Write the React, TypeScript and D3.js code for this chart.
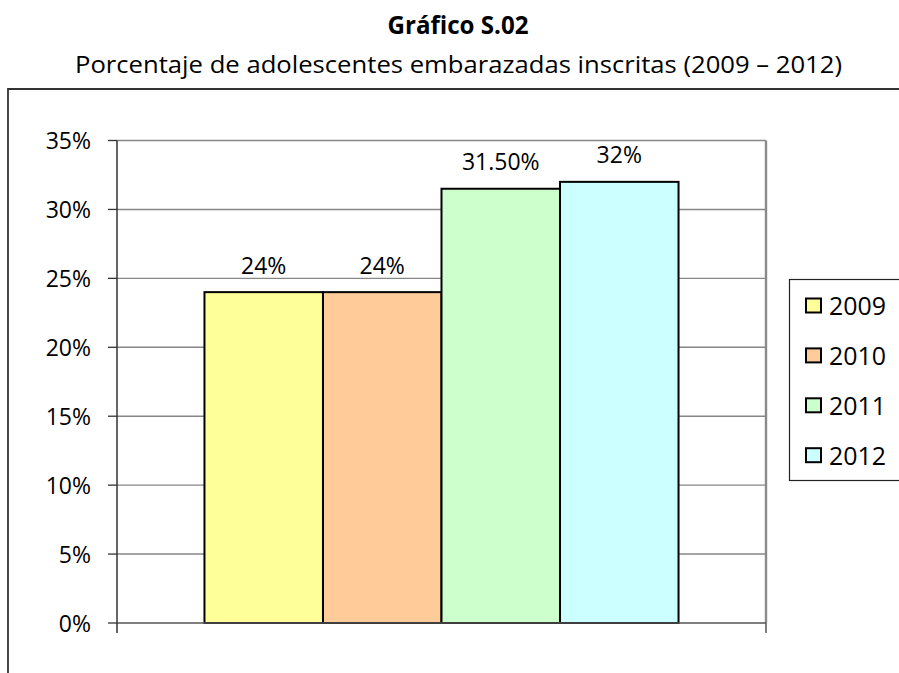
import React from "react";
import * as d3 from "d3";

const years = ["2009", "2010", "2011", "2012"];
const values = [0.24, 0.24, 0.315, 0.32];
const valueLabels = ["24%", "24%", "31.50%", "32%"];
const colors = ["#FFFF99", "#FFCC99", "#CCFFCC", "#CCFFFF"];
const yTicks = [0, 0.05, 0.1, 0.15, 0.2, 0.25, 0.3, 0.35];
const title = "Gráfico S.02";
const subtitle = "Porcentaje de adolescentes embarazadas inscritas (2009 – 2012)";

const W = 899;
const H = 673;
const plot = { left: 117, right: 766, top: 140.5, bottom: 623 };
const FONT = "'Open Sans', sans-serif";

export default function App() {
  const y = d3.scaleLinear().domain([0, 0.35]).range([plot.bottom, plot.top]);
  const x = d3
    .scaleBand<string>()
    .domain(years)
    .range([plot.left, plot.right])
    .paddingInner(0)
    .paddingOuter(0.738);
  const pct = d3.format(".0%");

  return (
    <svg
      width={W}
      height={H}
      style={{ position: "absolute", left: 0, top: 0, background: "#fff" }}
      fontFamily={FONT}
    >
      <rect x={0} y={0} width={W} height={H} fill="#fff" />
      <text x={458} y={34} textAnchor="middle" fontSize={25} fontWeight="bold" fill="#000"
        textLength={141} lengthAdjust="spacingAndGlyphs">
        {title}
      </text>
      <text x={458.5} y={72.5} textAnchor="middle" fontSize={23.5} fill="#000"
        textLength={767} lengthAdjust="spacingAndGlyphs">
        {subtitle}
      </text>

      {/* outer frame */}
      <path d={`M8,${H + 2} V89 H${W + 5}`} fill="none" stroke="#333" strokeWidth={1.8} />

      {/* gridlines */}
      {yTicks.slice(1).map((t) => (
        <line key={t} x1={plot.left} x2={plot.right} y1={y(t)} y2={y(t)} stroke="#868686" strokeWidth={1.4} />
      ))}
      {/* right border */}
      <line x1={plot.right} x2={plot.right} y1={plot.top} y2={plot.bottom} stroke="#8a8a8a" strokeWidth={2.4} />

      {/* bars */}
      {years.map((yr, i) => (
        <rect
          key={yr}
          x={x(yr)}
          y={y(values[i])}
          width={x.bandwidth()}
          height={plot.bottom - y(values[i])}
          fill={colors[i]}
          stroke="#000"
          strokeWidth={2}
        />
      ))}

      {/* bottom axis */}
      <line x1={plot.left} x2={plot.right} y1={plot.bottom} y2={plot.bottom} stroke="#555" strokeWidth={1.5} />
      <line x1={plot.right} x2={plot.right} y1={plot.bottom} y2={plot.bottom + 10} stroke="#555" strokeWidth={1.5} />
      {/* left axis */}
      <line x1={plot.left} x2={plot.left} y1={plot.top} y2={plot.bottom + 10} stroke="#333" strokeWidth={1.5} />
      {yTicks.map((t) => (
        <g key={t}>
          <line x1={plot.left - 9} x2={plot.left} y1={y(t)} y2={y(t)} stroke="#333" strokeWidth={1.3} />
          <text x={91} y={y(t) + 8.5} textAnchor="end" fontSize={23} fill="#000">
            {pct(t)}
          </text>
        </g>
      ))}

      {/* value labels */}
      {years.map((yr, i) => (
        <text key={yr} x={(x(yr) as number) + x.bandwidth() / 2} y={y(values[i]) - 18.5}
          textAnchor="middle" fontSize={23} fill="#000">
          {valueLabels[i]}
        </text>
      ))}

      {/* legend */}
      <rect x={789.5} y={279.5} width={130} height={201} fill="#fff" stroke="#222" strokeWidth={1.2} />
      {years.map((yr, i) => {
        const cy = 305.5 + i * 49.9;
        return (
          <g key={yr}>
            <rect x={806} y={cy - 7} width={15} height={14} fill={colors[i]} stroke="#000" strokeWidth={2} />
            <text x={829} y={cy + 9.5} fontSize={25} fill="#000" textLength={57} lengthAdjust="spacingAndGlyphs">
              {yr}
            </text>
          </g>
        );
      })}
    </svg>
  );
}
